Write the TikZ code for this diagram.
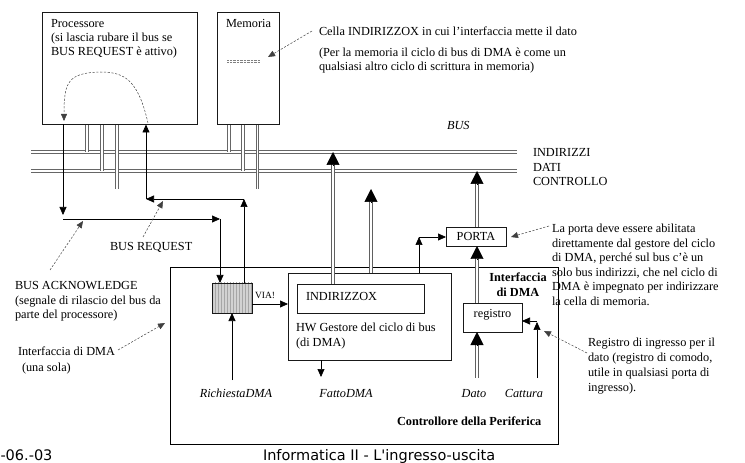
\documentclass[tikz,border=0pt]{standalone}
\usepackage{fontspec}
\setmainfont{Liberation Serif}
\newfontfamily\footfont{DejaVu Sans}[Ligatures=TeXOff]
\usetikzlibrary{arrows.meta,patterns,calc}

\newcommand\bodysize{\fontsize{12.3bp}{14bp}\selectfont}

\begin{document}
\begin{tikzpicture}[x=1bp,y=-1bp,
  every node/.style={inner sep=0pt, outer sep=0pt},
  txt/.style={anchor=base west, font=\bodysize},
  ctxt/.style={anchor=base, font=\bodysize},
  box/.style={draw=black!90, line width=0.8pt},
  busa/.style={draw=gray!80!black, line width=1.05pt, double=white, double distance=1.3pt},
  busc/.style={draw=black, line width=0.65pt, double=white, double distance=1.6pt},
  tap/.style={draw=gray!80!black, line width=1.05pt, double=white, double distance=1.3pt, shorten <=0.5pt},
  shaft/.style={draw=gray!75!black, line width=1.1pt, double=white, double distance=1.7pt,
    shorten >=5pt, shorten <=0.5pt},
  bigtip/.style={-{Triangle[length=13bp,width=13bp]}, line width=0.5pt},
  sig/.style={line width=0.7pt, -{Triangle[length=8bp,width=7bp]}},
  note/.style={draw=black!75, line width=0.5pt, dash pattern=on 2.2pt off 1.6pt,
    -{Triangle[length=7bp,width=6bp]}},
]
\useasboundingbox (0,0) rectangle (745,463);

% ---------------- boxes ----------------
\node[box, minimum width=155bp, minimum height=112bp] (proc) at (120,68.5) {};
\node[box, minimum width=62bp, minimum height=112bp] (mem) at (248.5,68.5) {};
\node[draw, line width=0.8pt, minimum width=388bp, minimum height=177bp] (ctrl) at (364.5,355.5) {};
\node[box, minimum width=163bp, minimum height=87bp] (hw) at (369.5,316.5) {};
\node[box, minimum width=127bp, minimum height=29bp] (indx) at (360.5,298.5) {};
\node[box, minimum width=40bp, minimum height=30bp, preaction={fill=gray!35},
      pattern=vertical lines, pattern color=gray!70] (via) at (232,298) {};
\node[box, minimum width=60bp, minimum height=19bp] (porta) at (476,236.5) {};
\node[box, minimum width=59bp, minimum height=29bp] (reg) at (492.5,317.5) {};

% memory cell marks
\draw[gray, line width=0.4pt, dash pattern=on 1pt off 0.4pt] (227,60) -- (260,60);
\draw[gray, line width=0.4pt, dash pattern=on 1pt off 0.4pt] (227,62.5) -- (260,62.5);

% ---------------- bus ----------------
\coordinate (indW) at (31,152);  \coordinate (indE) at (517,152);
\coordinate (datW) at (31,171);  \coordinate (datE) at (517,171);
\coordinate (conW) at (31,189);  \coordinate (conE) at (517,189);
\draw[busa] (indW) -- (indE);
\draw[busa] (datW) -- (datE);
\draw[busc] (conW) -- (conE);

% processor and memory taps
\coordinate (tp1) at (87,152);  \coordinate (tp2) at (102,171); \coordinate (tp3) at (117,189);
\coordinate (tm1) at (229,152); \coordinate (tm2) at (243,171); \coordinate (tm3) at (257.5,189);
\foreach \t in {tp1,tp2,tp3} \draw[tap] (\t |- proc.south) -- (\t);
\foreach \t in {tm1,tm2,tm3} \draw[tap] (\t |- mem.south) -- (\t);
% outlines stroked again so the taps leave them unbroken
\foreach \n in {proc,mem} \draw[box] (\n.south west) rectangle (\n.north east);

% ---------------- wide data/address arrows ----------------
\coordinate (a1) at (333,152); \coordinate (a1b) at (333,165);
\draw[shaft] (a1 |- indx.north) -- (a1);
\draw[bigtip] (a1b) -- (a1);
\coordinate (a2) at (371,189); \coordinate (a2b) at (371,202);
\draw[shaft] (a2 |- hw.north) -- (a2);
\draw[bigtip] (a2b) -- (a2);
\coordinate (a3) at (477,171); \coordinate (a3b) at (477,184);
\draw[shaft] (a3 |- porta.north) -- (a3);
\draw[bigtip] (a3b) -- (a3);
\coordinate (a4) at (477,246); \coordinate (a4b) at (477,259);
\draw[shaft] (a4 |- reg.north) -- (a4);
\draw[bigtip] (a4b) -- (a4);
\coordinate (a5) at (477,332); \coordinate (a5b) at (477,345); \coordinate (a5s) at (477,378);
\draw[shaft] (a5s) -- (a5);
\draw[bigtip] (a5b) -- (a5);

% ---------------- bus acknowledge ----------------
\coordinate (ack0) at (63,124.5); \coordinate (ack1) at (63,215);
\coordinate (ack2) at (63,219); \coordinate (ack3) at (220,219);
\draw[sig] (ack0) -- (ack1);
\draw[sig] (ack2) -- (ack3);
\draw[sig] (ack3) -- (ack3 |- via.north);

% ---------------- bus request ----------------
\coordinate (req0) at (244,199); \coordinate (req1) at (146,199); \coordinate (req2) at (146,124.5);
\draw[sig] (req0 |- via.north) -- (req0);
\draw[sig] (req0) -- (req1);
\draw[sig] (req1) -- (req2);

% ---------------- control signals ----------------
\coordinate (viaout) at (252,304);
\draw[sig] (viaout) -- (hw.west |- viaout);
\coordinate (rq) at (232,380);
\draw[sig] (rq) -- (via.south);
\coordinate (fa0) at (321,360); \coordinate (fa1) at (321,377);
\draw[sig] (fa0) -- (fa1);
\coordinate (en0) at (419,273); \coordinate (en1) at (419,237);
\draw[sig] (en0) -- (en1);
\draw[sig] (en1) -- (porta.west |- en1);
\coordinate (ca0) at (537,378); \coordinate (ca1) at (537,322); \coordinate (ca2) at (522,321);
\draw[sig] (ca0) -- (ca1);
\draw[sig] (ca1 |- ca2) -- (ca2);

% ---------------- texts ----------------
\foreach \t [count=\i] in {{Processore},{(si lascia rubare il bus se},{BUS REQUEST è attivo)}}
  \node[txt] (proctxt\i) at (51,{28+14*(\i-1)}) {\t};
\node[txt] (memtxt) at (226,28) {Memoria};
\node[txt] (cella) at (319,36) {Cella INDIRIZZOX in cui l’interfaccia mette il dato};
\node[txt] (memnote1) at (319,57) {(Per la memoria il ciclo di bus di DMA è come un};
\node[txt] (memnote2) at (319,71) {qualsiasi altro ciclo di scrittura in memoria)};
\node[txt, font=\bodysize\itshape] (bustxt) at (447,130) {BUS};
\node[txt] (lind) at (533,157) {INDIRIZZI};
\node[txt] (ldat) at (533,171.5) {DATI};
\node[txt] (lcon) at (533,186) {CONTROLLO};
\node[txt] (breq) at (110,251) {BUS REQUEST};
\foreach \t [count=\i] in {{BUS ACKNOWLEDGE},{(segnale di rilascio del bus da},{parte del processore)}}
  \node[txt] (back\i) at (15,{290+14.5*(\i-1)}) {\t};
\node[txt] (ifc1) at (18,356) {Interfaccia di DMA};
\node[txt] (ifc2) at (22,372) {(una sola)};
\node[anchor=base west, font=\fontsize{9.5bp}{11bp}\selectfont] (viatxt) at (255,299) {VIA!};
\node[txt] (indxtxt) at (306,301) {INDIRIZZOX};
\node[txt] (hwtxt1) at (296,332) {HW Gestore del ciclo di bus};
\node[txt] (hwtxt2) at (296,347) {(di DMA)};
\node[ctxt] (regtxt) at (492.5,318) {registro};
\node[ctxt] (portatxt) at (476,241) {PORTA};
\node[ctxt, font=\bodysize\bfseries] (dma1) at (518,282) {Interfaccia};
\node[ctxt, font=\bodysize\bfseries] (dma2) at (518,297) {di DMA};
\node[ctxt, font=\bodysize\itshape] (richtxt) at (236,397) {RichiestaDMA};
\node[ctxt, font=\bodysize\itshape] (fattotxt) at (346,397) {FattoDMA};
\node[ctxt, font=\bodysize\itshape] (datotxt) at (474,397) {Dato};
\node[ctxt, font=\bodysize\itshape] (catttxt) at (524,397) {Cattura};
\node[txt, font=\bodysize\bfseries] (ctrltxt) at (397,425) {Controllore della Periferica};
\foreach \t [count=\i] in {{La porta deve essere abilitata},{direttamente dal gestore del ciclo},
    {di DMA, perché sul bus c’è un},{solo bus indirizzi, che nel ciclo di},
    {DMA è impegnato per indirizzare},{la cella di memoria.}}
  \node[txt] (portanote\i) at (552,{233+14.5*(\i-1)}) {\t};
\foreach \t [count=\i] in {{Registro di ingresso per il},{dato (registro di comodo,},
    {utile in qualsiasi porta di},{ingresso).}}
  \node[txt] (regnote\i) at (588,{347+14.8*(\i-1)}) {\t};

% footer
\node[anchor=base west, font=\footfont\fontsize{14.5bp}{16bp}\selectfont] (date) at (0.5,460) {-06.-03};
\node[anchor=base west, font=\footfont\fontsize{14.5bp}{16bp}\selectfont] (title) at (263,460) {Informatica II - L'ingresso-uscita};

% ---------------- annotation arrows ----------------
\coordinate (loopA) at (148,123); \coordinate (loopTop) at (100,72); \coordinate (loopB) at (64,121);
\draw[note] (loopA) .. controls (138,80) and (125,72) .. (loopTop)
                    .. controls (68,73) and (64,82) .. (loopB);
\coordinate (nc0) at (312,31);  \coordinate (nc1) at (268,57);
\draw[note] (nc0) -- (nc1);
\coordinate (nr0) at (143,237); \coordinate (nr1) at (163,201);
\draw[note] (nr0) -- (nr1);
\coordinate (na0) at (50,270);  \coordinate (na1) at (83,221);
\draw[note] (na0) -- (na1);
\coordinate (ni0) at (118,350); \coordinate (ni1) at (165,323);
\draw[note] (ni0) -- (ni1);
\coordinate (np0) at (549,226); \coordinate (np1) at (511,237);
\draw[note] (np0) -- (np1);
\coordinate (ng0) at (587,353); \coordinate (ng1) at (544,331);
\draw[note] (ng0) -- (ng1);
\end{tikzpicture}
\end{document}
